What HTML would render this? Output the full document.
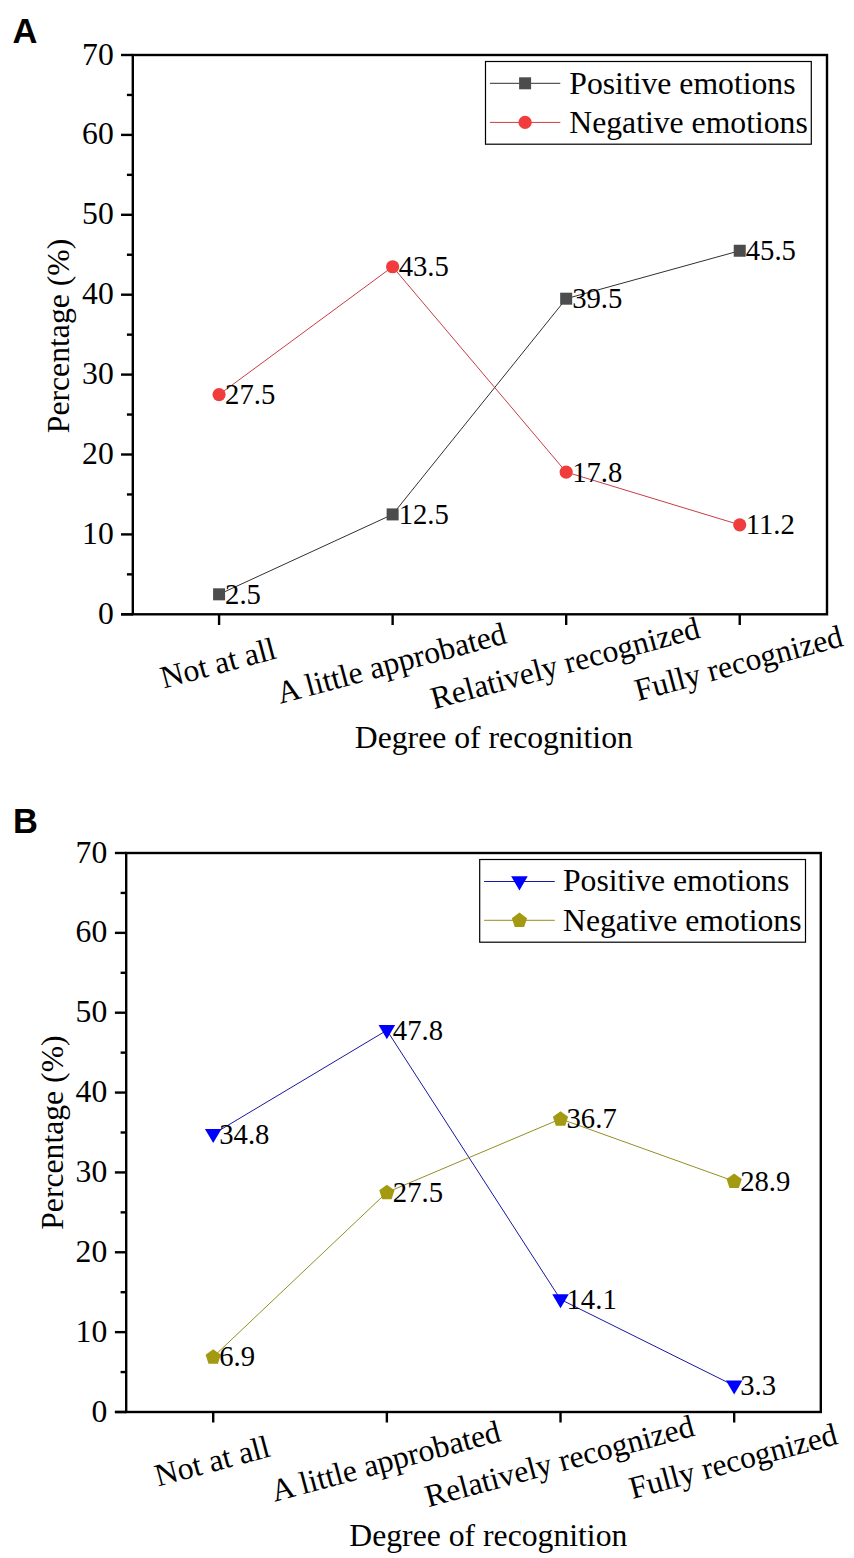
<!DOCTYPE html>
<html><head><meta charset="utf-8"><style>
html,body{margin:0;padding:0;background:#fff;}
svg{display:block;font-family:"Liberation Serif",serif;}
</style></head><body>
<svg width="854" height="1558" viewBox="0 0 854 1558">
<rect width="854" height="1558" fill="#fff"/>
<rect x="132.80" y="55.00" width="694.20" height="559.30" fill="none" stroke="#000" stroke-width="2.4"/>
<line x1="121.00" y1="614.30" x2="132.80" y2="614.30" stroke="#000" stroke-width="2.4"/>
<line x1="121.00" y1="614.30" x2="132.80" y2="614.30" stroke="#000" stroke-width="2.4"/>
<text x="113.80" y="623.80" font-size="31.7" text-anchor="end" >0</text>
<line x1="126.90" y1="574.35" x2="132.80" y2="574.35" stroke="#000" stroke-width="2.4"/>
<line x1="121.00" y1="534.40" x2="132.80" y2="534.40" stroke="#000" stroke-width="2.4"/>
<text x="113.80" y="543.90" font-size="31.7" text-anchor="end" >10</text>
<line x1="126.90" y1="494.45" x2="132.80" y2="494.45" stroke="#000" stroke-width="2.4"/>
<line x1="121.00" y1="454.50" x2="132.80" y2="454.50" stroke="#000" stroke-width="2.4"/>
<text x="113.80" y="464.00" font-size="31.7" text-anchor="end" >20</text>
<line x1="126.90" y1="414.55" x2="132.80" y2="414.55" stroke="#000" stroke-width="2.4"/>
<line x1="121.00" y1="374.60" x2="132.80" y2="374.60" stroke="#000" stroke-width="2.4"/>
<text x="113.80" y="384.10" font-size="31.7" text-anchor="end" >30</text>
<line x1="126.90" y1="334.65" x2="132.80" y2="334.65" stroke="#000" stroke-width="2.4"/>
<line x1="121.00" y1="294.70" x2="132.80" y2="294.70" stroke="#000" stroke-width="2.4"/>
<text x="113.80" y="304.20" font-size="31.7" text-anchor="end" >40</text>
<line x1="126.90" y1="254.75" x2="132.80" y2="254.75" stroke="#000" stroke-width="2.4"/>
<line x1="121.00" y1="214.80" x2="132.80" y2="214.80" stroke="#000" stroke-width="2.4"/>
<text x="113.80" y="224.30" font-size="31.7" text-anchor="end" >50</text>
<line x1="126.90" y1="174.85" x2="132.80" y2="174.85" stroke="#000" stroke-width="2.4"/>
<line x1="121.00" y1="134.90" x2="132.80" y2="134.90" stroke="#000" stroke-width="2.4"/>
<text x="113.80" y="144.40" font-size="31.7" text-anchor="end" >60</text>
<line x1="126.90" y1="94.95" x2="132.80" y2="94.95" stroke="#000" stroke-width="2.4"/>
<line x1="121.00" y1="55.00" x2="132.80" y2="55.00" stroke="#000" stroke-width="2.4"/>
<text x="113.80" y="64.50" font-size="31.7" text-anchor="end" >70</text>
<line x1="219.08" y1="614.30" x2="219.08" y2="625.00" stroke="#000" stroke-width="2.4"/>
<line x1="392.63" y1="614.30" x2="392.63" y2="625.00" stroke="#000" stroke-width="2.4"/>
<line x1="566.17" y1="614.30" x2="566.17" y2="625.00" stroke="#000" stroke-width="2.4"/>
<line x1="739.73" y1="614.30" x2="739.73" y2="625.00" stroke="#000" stroke-width="2.4"/>
<text x="217.98" y="663.20" font-size="31.7" text-anchor="middle" dominant-baseline="central" transform="rotate(-15 217.98 663.20)">Not at all</text>
<text x="391.53" y="663.20" font-size="31.7" text-anchor="middle" dominant-baseline="central" transform="rotate(-15 391.53 663.20)">A little approbated</text>
<text x="565.07" y="663.20" font-size="31.7" text-anchor="middle" dominant-baseline="central" transform="rotate(-15 565.07 663.20)">Relatively recognized</text>
<text x="738.63" y="663.20" font-size="31.7" text-anchor="middle" dominant-baseline="central" transform="rotate(-15 738.63 663.20)">Fully recognized</text>
<text x="354.80" y="748.30" font-size="31.7" text-anchor="start" >Degree of recognition</text>
<text x="69.00" y="433.20" font-size="31.7" text-anchor="start" transform="rotate(-90 69.00 433.20)">Percentage (%)</text>
<text x="12.40" y="43.00" font-family="Liberation Sans" font-weight="bold" font-size="34.5">A</text>
<polyline points="219.08,594.32 392.63,514.42 566.17,298.69 739.73,250.75" fill="none" stroke="#303030" stroke-width="1"/>
<polyline points="219.08,394.57 392.63,266.73 566.17,472.08 739.73,524.81" fill="none" stroke="#c83c48" stroke-width="1"/>
<rect x="213.08" y="588.32" width="12" height="12" fill="#4c4c4c"/>
<rect x="386.63" y="508.42" width="12" height="12" fill="#4c4c4c"/>
<rect x="560.17" y="292.69" width="12" height="12" fill="#4c4c4c"/>
<rect x="733.73" y="244.75" width="12" height="12" fill="#4c4c4c"/>
<circle cx="219.08" cy="394.57" r="6.6" fill="#f03c3c"/>
<circle cx="392.63" cy="266.73" r="6.6" fill="#f03c3c"/>
<circle cx="566.17" cy="472.08" r="6.6" fill="#f03c3c"/>
<circle cx="739.73" cy="524.81" r="6.6" fill="#f03c3c"/>
<text x="225.08" y="603.82" font-size="28.7" text-anchor="start" >2.5</text>
<text x="398.63" y="523.92" font-size="28.7" text-anchor="start" >12.5</text>
<text x="572.17" y="308.19" font-size="28.7" text-anchor="start" >39.5</text>
<text x="745.73" y="260.25" font-size="28.7" text-anchor="start" >45.5</text>
<text x="225.08" y="404.07" font-size="28.7" text-anchor="start" >27.5</text>
<text x="398.63" y="276.23" font-size="28.7" text-anchor="start" >43.5</text>
<text x="572.17" y="481.58" font-size="28.7" text-anchor="start" >17.8</text>
<text x="745.73" y="534.31" font-size="28.7" text-anchor="start" >11.2</text>
<rect x="485.50" y="61.50" width="325.80" height="82.70" fill="#fff" stroke="#000" stroke-width="1.2"/>
<line x1="489.90" y1="83.30" x2="560.30" y2="83.30" stroke="#303030" stroke-width="1"/>
<rect x="519.10" y="77.30" width="12" height="12" fill="#4c4c4c"/>
<text x="569.30" y="94.30" font-size="31.7" text-anchor="start" >Positive emotions</text>
<line x1="489.90" y1="122.40" x2="560.30" y2="122.40" stroke="#c83c48" stroke-width="1"/>
<circle cx="525.10" cy="122.40" r="6.6" fill="#f03c3c"/>
<text x="569.30" y="133.40" font-size="31.7" text-anchor="start" >Negative emotions</text>
<rect x="126.20" y="853.00" width="694.60" height="559.00" fill="none" stroke="#000" stroke-width="2.4"/>
<line x1="114.90" y1="1412.00" x2="126.20" y2="1412.00" stroke="#000" stroke-width="2.4"/>
<line x1="114.90" y1="1412.00" x2="126.20" y2="1412.00" stroke="#000" stroke-width="2.4"/>
<text x="107.30" y="1421.50" font-size="31.7" text-anchor="end" >0</text>
<line x1="120.60" y1="1372.07" x2="126.20" y2="1372.07" stroke="#000" stroke-width="2.4"/>
<line x1="114.90" y1="1332.14" x2="126.20" y2="1332.14" stroke="#000" stroke-width="2.4"/>
<text x="107.30" y="1341.64" font-size="31.7" text-anchor="end" >10</text>
<line x1="120.60" y1="1292.21" x2="126.20" y2="1292.21" stroke="#000" stroke-width="2.4"/>
<line x1="114.90" y1="1252.29" x2="126.20" y2="1252.29" stroke="#000" stroke-width="2.4"/>
<text x="107.30" y="1261.79" font-size="31.7" text-anchor="end" >20</text>
<line x1="120.60" y1="1212.36" x2="126.20" y2="1212.36" stroke="#000" stroke-width="2.4"/>
<line x1="114.90" y1="1172.43" x2="126.20" y2="1172.43" stroke="#000" stroke-width="2.4"/>
<text x="107.30" y="1181.93" font-size="31.7" text-anchor="end" >30</text>
<line x1="120.60" y1="1132.50" x2="126.20" y2="1132.50" stroke="#000" stroke-width="2.4"/>
<line x1="114.90" y1="1092.57" x2="126.20" y2="1092.57" stroke="#000" stroke-width="2.4"/>
<text x="107.30" y="1102.07" font-size="31.7" text-anchor="end" >40</text>
<line x1="120.60" y1="1052.64" x2="126.20" y2="1052.64" stroke="#000" stroke-width="2.4"/>
<line x1="114.90" y1="1012.71" x2="126.20" y2="1012.71" stroke="#000" stroke-width="2.4"/>
<text x="107.30" y="1022.21" font-size="31.7" text-anchor="end" >50</text>
<line x1="120.60" y1="972.79" x2="126.20" y2="972.79" stroke="#000" stroke-width="2.4"/>
<line x1="114.90" y1="932.86" x2="126.20" y2="932.86" stroke="#000" stroke-width="2.4"/>
<text x="107.30" y="942.36" font-size="31.7" text-anchor="end" >60</text>
<line x1="120.60" y1="892.93" x2="126.20" y2="892.93" stroke="#000" stroke-width="2.4"/>
<line x1="114.90" y1="853.00" x2="126.20" y2="853.00" stroke="#000" stroke-width="2.4"/>
<text x="107.30" y="862.50" font-size="31.7" text-anchor="end" >70</text>
<line x1="213.22" y1="1412.00" x2="213.22" y2="1422.50" stroke="#000" stroke-width="2.4"/>
<line x1="386.87" y1="1412.00" x2="386.87" y2="1422.50" stroke="#000" stroke-width="2.4"/>
<line x1="560.52" y1="1412.00" x2="560.52" y2="1422.50" stroke="#000" stroke-width="2.4"/>
<line x1="734.17" y1="1412.00" x2="734.17" y2="1422.50" stroke="#000" stroke-width="2.4"/>
<text x="212.12" y="1461.20" font-size="31.7" text-anchor="middle" dominant-baseline="central" transform="rotate(-15 212.12 1461.20)">Not at all</text>
<text x="385.77" y="1461.20" font-size="31.7" text-anchor="middle" dominant-baseline="central" transform="rotate(-15 385.77 1461.20)">A little approbated</text>
<text x="559.42" y="1461.20" font-size="31.7" text-anchor="middle" dominant-baseline="central" transform="rotate(-15 559.42 1461.20)">Relatively recognized</text>
<text x="733.07" y="1461.20" font-size="31.7" text-anchor="middle" dominant-baseline="central" transform="rotate(-15 733.07 1461.20)">Fully recognized</text>
<text x="349.30" y="1545.70" font-size="31.7" text-anchor="start" >Degree of recognition</text>
<text x="63.50" y="1229.80" font-size="31.7" text-anchor="start" transform="rotate(-90 63.50 1229.80)">Percentage (%)</text>
<text x="13.00" y="833.00" font-family="Liberation Sans" font-weight="bold" font-size="34.5">B</text>
<polyline points="213.22,1134.10 386.87,1030.28 560.52,1299.40 734.17,1385.65" fill="none" stroke="#1818a0" stroke-width="1"/>
<polyline points="213.22,1356.90 386.87,1192.39 560.52,1118.92 734.17,1181.21" fill="none" stroke="#948e24" stroke-width="1"/>
<polygon points="204.92,1128.90 221.52,1128.90 213.22,1143.00" fill="#0000ff"/>
<polygon points="378.57,1025.08 395.17,1025.08 386.87,1039.18" fill="#0000ff"/>
<polygon points="552.23,1294.20 568.82,1294.20 560.52,1308.30" fill="#0000ff"/>
<polygon points="725.88,1380.45 742.47,1380.45 734.17,1394.55" fill="#0000ff"/>
<polygon points="213.22,1349.20 220.83,1354.73 217.93,1363.67 208.52,1363.67 205.62,1354.73" fill="#a39a12"/>
<polygon points="386.87,1184.69 394.48,1190.22 391.58,1199.16 382.17,1199.16 379.27,1190.22" fill="#a39a12"/>
<polygon points="560.52,1111.22 568.13,1116.75 565.23,1125.70 555.82,1125.70 552.92,1116.75" fill="#a39a12"/>
<polygon points="734.17,1173.51 741.78,1179.04 738.88,1187.98 729.47,1187.98 726.57,1179.04" fill="#a39a12"/>
<text x="219.22" y="1143.60" font-size="28.7" text-anchor="start" >34.8</text>
<text x="392.87" y="1039.78" font-size="28.7" text-anchor="start" >47.8</text>
<text x="566.52" y="1308.90" font-size="28.7" text-anchor="start" >14.1</text>
<text x="740.17" y="1395.15" font-size="28.7" text-anchor="start" >3.3</text>
<text x="219.22" y="1366.40" font-size="28.7" text-anchor="start" >6.9</text>
<text x="392.87" y="1201.89" font-size="28.7" text-anchor="start" >27.5</text>
<text x="566.52" y="1128.42" font-size="28.7" text-anchor="start" >36.7</text>
<text x="740.17" y="1190.71" font-size="28.7" text-anchor="start" >28.9</text>
<rect x="479.70" y="859.50" width="325.80" height="82.70" fill="#fff" stroke="#000" stroke-width="1.2"/>
<line x1="484.10" y1="881.50" x2="554.80" y2="881.50" stroke="#1818a0" stroke-width="1"/>
<polygon points="511.15,876.30 527.75,876.30 519.45,890.40" fill="#0000ff"/>
<text x="563.00" y="891.40" font-size="31.7" text-anchor="start" >Positive emotions</text>
<line x1="484.10" y1="920.30" x2="554.80" y2="920.30" stroke="#948e24" stroke-width="1"/>
<polygon points="519.45,912.60 527.06,918.13 524.15,927.07 514.75,927.07 511.84,918.13" fill="#a39a12"/>
<text x="563.00" y="931.30" font-size="31.7" text-anchor="start" >Negative emotions</text>
</svg>
</body></html>
